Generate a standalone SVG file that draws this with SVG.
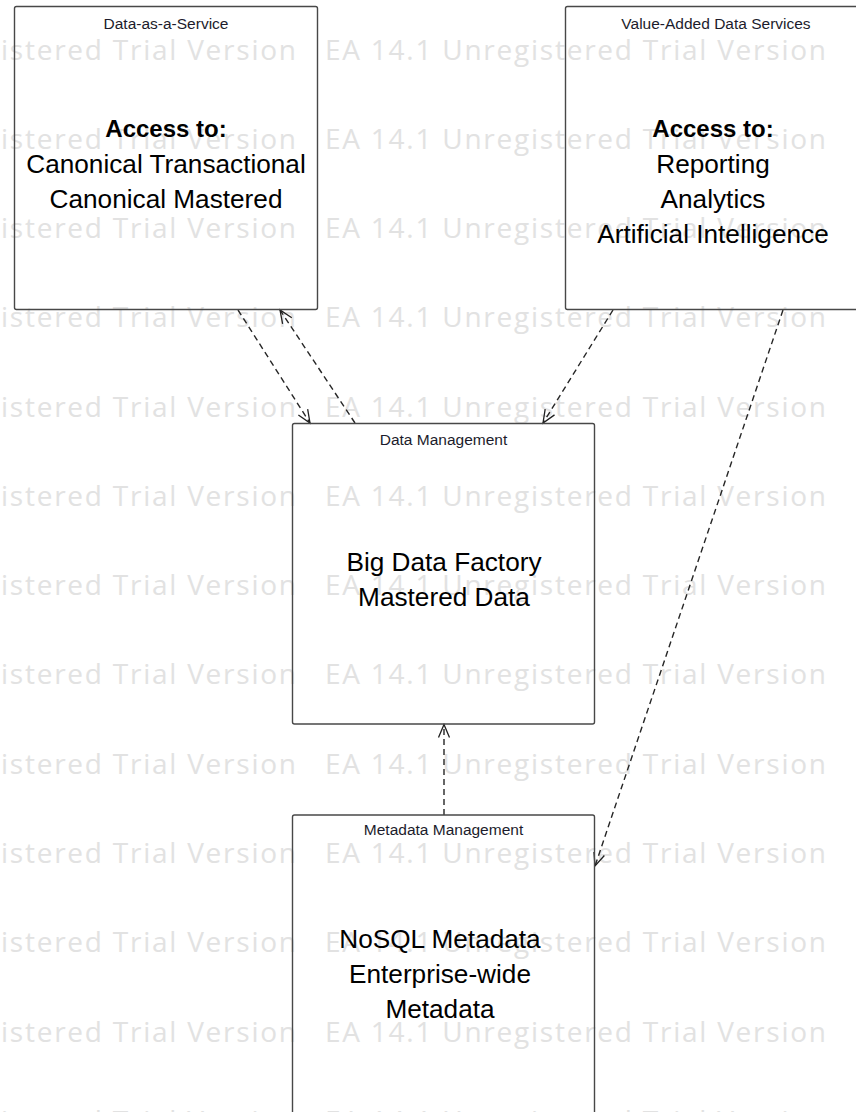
<svg xmlns="http://www.w3.org/2000/svg" width="856" height="1112" viewBox="0 0 856 1112">
  <style>
    .wm { font-family: "Open Sans", "Liberation Sans", sans-serif; font-size: 28px; fill: #e2e2e2; }
    .box { fill: none; stroke: #484848; stroke-width: 1.4; }
    .title { font-family: "Liberation Sans", Arial, sans-serif; font-size: 15.5px; fill: #1c1c2c; text-anchor: middle; }
    .body { font-family: "Liberation Sans", Arial, sans-serif; font-size: 26.2px; fill: #000; text-anchor: middle; }
    .bold { font-family: "Liberation Sans", Arial, sans-serif; font-size: 24px; font-weight: bold; fill: #000; text-anchor: middle; }
    .conn { fill: none; stroke: #262626; stroke-width: 1.4; stroke-dasharray: 6 4; }
  </style>
  <defs>
    <marker id="open" markerUnits="userSpaceOnUse" markerWidth="16" markerHeight="14" viewBox="-14 -7 16 14" refX="0" refY="0" orient="auto">
      <path d="M -13 -5.5 L 0 0 L -13 5.5" fill="none" stroke="#202020" stroke-width="1.3"/>
    </marker>
  </defs>
  <rect width="856" height="1112" fill="#ffffff"/>
  <g id="watermark">
    <text class="wm" x="-205" y="59.5" textLength="501" lengthAdjust="spacing">EA 14.1 Unregistered Trial Version</text>
    <text class="wm" x="325" y="59.5" textLength="501" lengthAdjust="spacing">EA 14.1 Unregistered Trial Version</text>
    <text class="wm" x="-205" y="148.8" textLength="501" lengthAdjust="spacing">EA 14.1 Unregistered Trial Version</text>
    <text class="wm" x="325" y="148.8" textLength="501" lengthAdjust="spacing">EA 14.1 Unregistered Trial Version</text>
    <text class="wm" x="-205" y="238" textLength="501" lengthAdjust="spacing">EA 14.1 Unregistered Trial Version</text>
    <text class="wm" x="325" y="238" textLength="501" lengthAdjust="spacing">EA 14.1 Unregistered Trial Version</text>
    <text class="wm" x="-205" y="327.3" textLength="501" lengthAdjust="spacing">EA 14.1 Unregistered Trial Version</text>
    <text class="wm" x="325" y="327.3" textLength="501" lengthAdjust="spacing">EA 14.1 Unregistered Trial Version</text>
    <text class="wm" x="-205" y="416.6" textLength="501" lengthAdjust="spacing">EA 14.1 Unregistered Trial Version</text>
    <text class="wm" x="325" y="416.6" textLength="501" lengthAdjust="spacing">EA 14.1 Unregistered Trial Version</text>
    <text class="wm" x="-205" y="505.9" textLength="501" lengthAdjust="spacing">EA 14.1 Unregistered Trial Version</text>
    <text class="wm" x="325" y="505.9" textLength="501" lengthAdjust="spacing">EA 14.1 Unregistered Trial Version</text>
    <text class="wm" x="-205" y="595.1" textLength="501" lengthAdjust="spacing">EA 14.1 Unregistered Trial Version</text>
    <text class="wm" x="325" y="595.1" textLength="501" lengthAdjust="spacing">EA 14.1 Unregistered Trial Version</text>
    <text class="wm" x="-205" y="684.4" textLength="501" lengthAdjust="spacing">EA 14.1 Unregistered Trial Version</text>
    <text class="wm" x="325" y="684.4" textLength="501" lengthAdjust="spacing">EA 14.1 Unregistered Trial Version</text>
    <text class="wm" x="-205" y="773.7" textLength="501" lengthAdjust="spacing">EA 14.1 Unregistered Trial Version</text>
    <text class="wm" x="325" y="773.7" textLength="501" lengthAdjust="spacing">EA 14.1 Unregistered Trial Version</text>
    <text class="wm" x="-205" y="862.9" textLength="501" lengthAdjust="spacing">EA 14.1 Unregistered Trial Version</text>
    <text class="wm" x="325" y="862.9" textLength="501" lengthAdjust="spacing">EA 14.1 Unregistered Trial Version</text>
    <text class="wm" x="-205" y="952.2" textLength="501" lengthAdjust="spacing">EA 14.1 Unregistered Trial Version</text>
    <text class="wm" x="325" y="952.2" textLength="501" lengthAdjust="spacing">EA 14.1 Unregistered Trial Version</text>
    <text class="wm" x="-205" y="1041.5" textLength="501" lengthAdjust="spacing">EA 14.1 Unregistered Trial Version</text>
    <text class="wm" x="325" y="1041.5" textLength="501" lengthAdjust="spacing">EA 14.1 Unregistered Trial Version</text>
    <text class="wm" x="-205" y="1130.7" textLength="501" lengthAdjust="spacing">EA 14.1 Unregistered Trial Version</text>
    <text class="wm" x="325" y="1130.7" textLength="501" lengthAdjust="spacing">EA 14.1 Unregistered Trial Version</text>
  </g>
  <g id="connectors">
    <line class="conn" x1="238" y1="310" x2="310" y2="423" marker-end="url(#open)"/>
    <line class="conn" x1="355" y1="423" x2="280" y2="310" marker-end="url(#open)"/>
    <line class="conn" x1="613" y1="310" x2="543" y2="423" marker-end="url(#open)"/>
    <line class="conn" x1="444" y1="815" x2="444" y2="724.5" marker-end="url(#open)"/>
    <line class="conn" x1="783" y1="310" x2="595" y2="866" marker-end="url(#open)"/>
  </g>
  <g id="data-as-a-service">
    <rect class="box" x="14.5" y="6.5" width="303" height="303" rx="2"/>
    <text class="title" x="166" y="29">Data-as-a-Service</text>
    <text class="bold" x="166" y="137">Access to:</text>
    <text class="body" x="166" y="172.5">Canonical Transactional</text>
    <text class="body" x="166" y="207.5">Canonical Mastered</text>
  </g>
  <g id="value-added-data-services">
    <rect class="box" x="565.5" y="6.5" width="302" height="303" rx="2"/>
    <text class="title" x="716" y="28.5">Value-Added Data Services</text>
    <text class="bold" x="713" y="137">Access to:</text>
    <text class="body" x="713" y="172.5">Reporting</text>
    <text class="body" x="713" y="207.5">Analytics</text>
    <text class="body" x="713" y="242.5">Artificial Intelligence</text>
  </g>
  <g id="data-management">
    <rect class="box" x="292.5" y="423.5" width="302" height="300.5" rx="2"/>
    <text class="title" x="443.5" y="445">Data Management</text>
    <text class="body" x="444" y="570.5">Big Data Factory</text>
    <text class="body" x="444" y="606">Mastered Data</text>
  </g>
  <g id="metadata-management">
    <rect class="box" x="292.5" y="815" width="302" height="320" rx="2"/>
    <text class="title" x="443.5" y="835">Metadata Management</text>
    <text class="body" x="440" y="947.5">NoSQL Metadata</text>
    <text class="body" x="440" y="983">Enterprise-wide</text>
    <text class="body" x="440" y="1018">Metadata</text>
  </g>
</svg>
